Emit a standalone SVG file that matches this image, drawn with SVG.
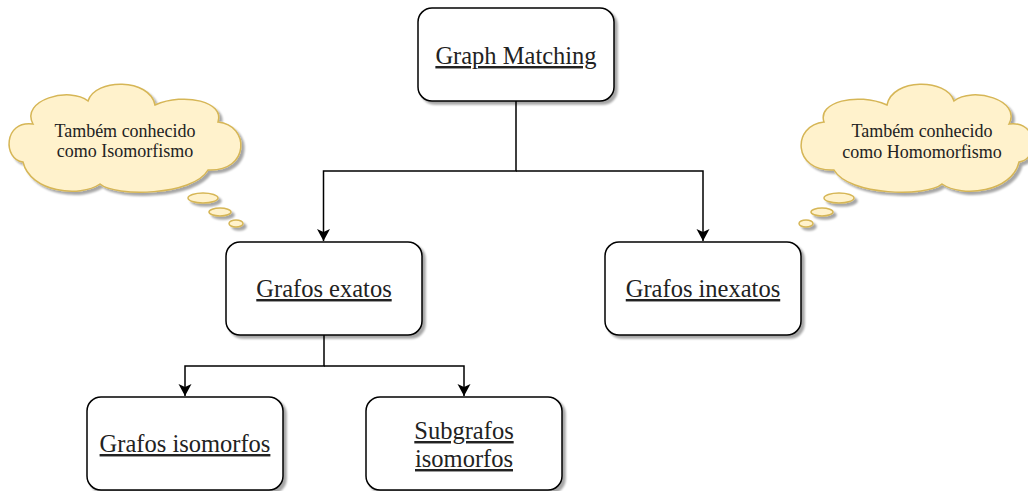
<svg xmlns="http://www.w3.org/2000/svg" width="1028" height="491" viewBox="0 0 1028 491">
  <style>
    .box { fill: #ffffff; stroke: #000000; stroke-width: 1.5; }
    .label { font-family: "Liberation Serif", "Times New Roman", serif; font-size: 24.5px; fill: #222222; text-anchor: middle; text-decoration: underline; }
    .cloud { fill: #fff2cc; stroke: #d6b656; stroke-width: 1.5; }
    .note { font-family: "Liberation Serif", "Times New Roman", serif; font-size: 18px; fill: #222222; text-anchor: middle; }
    .edge { fill: none; stroke: #000000; stroke-width: 1.5; }
  </style>
  <defs>
    <filter id="shadow" x="-10%" y="-10%" width="130%" height="130%">
      <feGaussianBlur in="SourceAlpha" stdDeviation="1"/>
      <feOffset dx="3" dy="3"/>
      <feComponentTransfer>
        <feFuncA type="linear" slope="0.35"/>
      </feComponentTransfer>
      <feMerge>
        <feMergeNode/>
        <feMergeNode in="SourceGraphic"/>
      </feMerge>
    </filter>
    <marker id="arrow" markerUnits="userSpaceOnUse" markerWidth="14" markerHeight="14" refX="12" refY="7" orient="auto">
      <path d="M0,0.5 L12,7 L0,13.5 L3,7 Z" fill="#000000"/>
    </marker>
    <!-- thought bubble: cloud plus three trailing ellipses -->
    <g id="thought">
      <path class="cloud" d="M33,124 C20,100 70,86 88,101 C95,78 150,78 155,105 C185,92 225,102 218,122 C250,125 250,172 208,170 C193,196 115,197 100,184 C80,198 30,192 23,162 C3,160 3,120 33,124 Z"/>
      <ellipse class="cloud" cx="203" cy="198" rx="15" ry="5"/>
      <ellipse class="cloud" cx="220" cy="212" rx="11" ry="4"/>
      <ellipse class="cloud" cx="236" cy="223.5" rx="7" ry="3.5"/>
    </g>
  </defs>

  <!-- connectors -->
  <g id="connectors">
    <path class="edge" d="M516,101 V171 H323.5 V241" marker-end="url(#arrow)"/>
    <path class="edge" d="M516,171 H703 V241" marker-end="url(#arrow)"/>
    <path class="edge" d="M324,335 V366 H185 V396" marker-end="url(#arrow)"/>
    <path class="edge" d="M324,366 H464 V396" marker-end="url(#arrow)"/>
  </g>

  <g id="graph-matching">
    <rect class="box" x="418" y="8" width="196" height="93" rx="14" filter="url(#shadow)"/>
    <text class="label" x="516" y="64">Graph Matching</text>
  </g>

  <g id="grafos-exatos">
    <rect class="box" x="226" y="242" width="196" height="93" rx="14" filter="url(#shadow)"/>
    <text class="label" x="324" y="297">Grafos exatos</text>
  </g>

  <g id="grafos-inexatos">
    <rect class="box" x="605" y="242" width="196" height="93" rx="14" filter="url(#shadow)"/>
    <text class="label" x="703" y="297">Grafos inexatos</text>
  </g>

  <g id="grafos-isomorfos">
    <rect class="box" x="87" y="397" width="196" height="93" rx="14" filter="url(#shadow)"/>
    <text class="label" x="185" y="452">Grafos isomorfos</text>
  </g>

  <g id="subgrafos-isomorfos">
    <rect class="box" x="366" y="397" width="196" height="93" rx="14" filter="url(#shadow)"/>
    <text class="label" x="464" y="439">Subgrafos</text>
    <text class="label" x="464" y="467">isomorfos</text>
  </g>

  <g id="note-isomorfismo">
    <g filter="url(#shadow)">
      <use href="#thought"/>
    </g>
    <text class="note" x="125" y="137">Também conhecido</text>
    <text class="note" x="125" y="157">como Isomorfismo</text>
  </g>

  <g id="note-homomorfismo">
    <g filter="url(#shadow)">
      <use href="#thought" transform="matrix(-1 0 0 1 1042 0)"/>
    </g>
    <text class="note" x="922" y="137">Também conhecido</text>
    <text class="note" x="922" y="158">como Homomorfismo</text>
  </g>
</svg>
